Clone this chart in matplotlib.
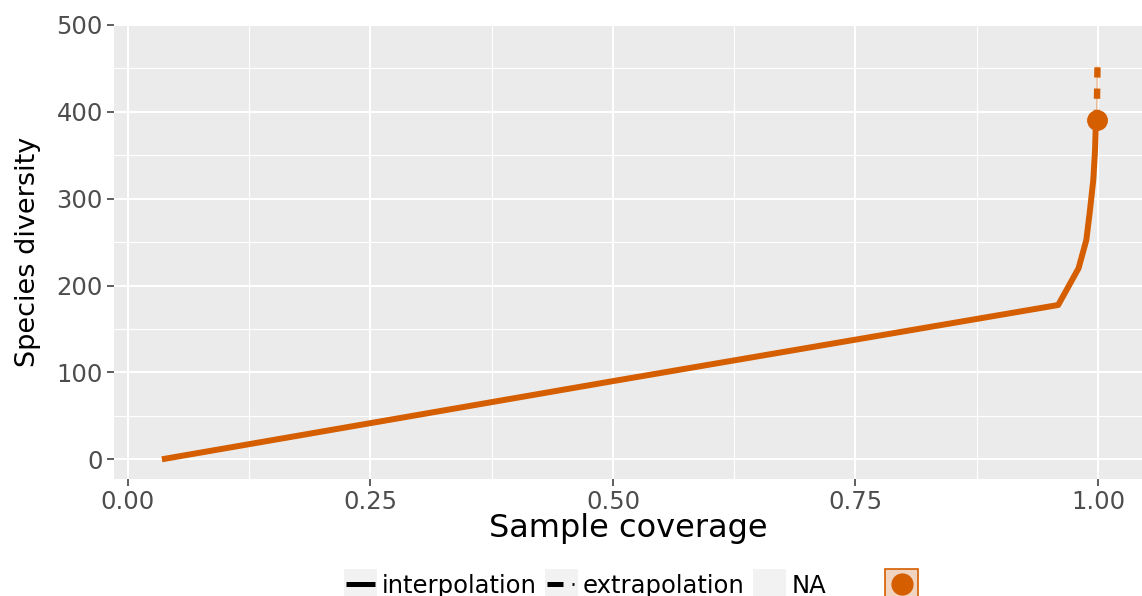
import matplotlib
matplotlib.use("Agg")
import matplotlib.pyplot as plt
from matplotlib.lines import Line2D
from matplotlib.patches import Rectangle

plt.rcParams['font.family'] = ['DejaVu Sans']

# data
interp_cov = [0.035, 0.5, 0.959, 0.980, 0.988, 0.9918, 0.9952, 0.997, 0.9976, 0.9987]
interp_div = [0, 90, 177.6, 219.9, 252.4, 287, 321.7, 356, 379, 390.6]
extrap_cov = [0.9987, 0.9995]
extrap_div = [390.6, 451.6]
obs_cov = [0.9987]
obs_div = [390.6]

x_ticks = [0.0, 0.25, 0.5, 0.75, 1.0]
x_ticklabels = ['0.00', '0.25', '0.50', '0.75', '1.00']
y_ticks = [0, 100, 200, 300, 400, 500]
legend_labels = ['interpolation', 'extrapolation', 'NA']

orange = '#D55E00'
W, H = 1142, 596

fig = plt.figure(figsize=(W / 100, H / 100), dpi=100)
ax = fig.add_axes([114 / W, 1 - 479 / H, 1028 / W, 455 / H])
ax.set_facecolor('#EBEBEB')
for s in ax.spines.values():
    s.set_visible(False)

ax.set_xlim(-0.0144, 1.0454)
ax.set_ylim(-22.7, 501.1)
ax.set_xticks(x_ticks)
ax.set_xticklabels(x_ticklabels)
ax.set_yticks(y_ticks)
ax.set_xticks([0.125, 0.375, 0.625, 0.875], minor=True)
ax.set_yticks([50, 150, 250, 350, 450], minor=True)
ax.grid(which='major', color='white', lw=1.5)
ax.grid(which='minor', color='white', lw=0.8)
ax.set_axisbelow(True)
ax.tick_params(which='major', length=5, width=1.1, color='#333333',
               labelcolor='#4D4D4D', labelsize=17.5, pad=3)
ax.tick_params(which='minor', length=0)

# curves
ax.plot(interp_cov, interp_div, color=orange, lw=4.3, solid_capstyle='butt', zorder=3)
ax.plot(extrap_cov, extrap_div, color=orange, lw=1.2, alpha=0.35, zorder=3)
ax.plot(extrap_cov, extrap_div, color=orange, lw=4.6, dashes=(1.6, 1.72),
        dash_capstyle='butt', zorder=3)
ax.plot(obs_cov, obs_div, 'o', color=orange, ms=14, zorder=4)

ax.set_xlabel('Sample coverage', fontsize=23, color='black')
ax.xaxis.set_label_coords(0.5, -0.108)
ax.xaxis.label.set_va('center')
ax.set_ylabel('Species diversity', fontsize=19.5, color='black')
ax.yaxis.set_label_coords(-0.0837, 0.499)
ax.yaxis.label.set_va('center')


# legend along the bottom, in figure pixels
def fx(x):
    return x / W


def fy(y):
    return 1 - y / H


key_left = [344, 545, 753]
text_left = [382, 583, 792]
for kx in key_left:
    fig.patches.append(Rectangle((fx(kx), fy(600)), 33 / W, 31 / H,
                                 transform=fig.transFigure, facecolor='#F2F2F2',
                                 edgecolor='none'))
fig.lines.append(Line2D([fx(346), fx(375)], [fy(584), fy(584)], color='black',
                        lw=3.6, transform=fig.transFigure, solid_capstyle='butt'))
fig.lines.append(Line2D([fx(547), fx(563)], [fy(584), fy(584)], color='black',
                        lw=3.6, transform=fig.transFigure, solid_capstyle='butt'))
fig.lines.append(Line2D([fx(572), fx(574)], [fy(584), fy(584)], color='black',
                        lw=2.0, transform=fig.transFigure, solid_capstyle='butt'))
for lab, tx in zip(legend_labels, text_left):
    fig.text(fx(tx), fy(593), lab, fontsize=17.5, color='black', va='baseline', ha='left')

fig.patches.append(Rectangle((fx(885), fy(600)), 33 / W, 31 / H,
                             transform=fig.transFigure, facecolor='#F0D4C0',
                             edgecolor=orange, lw=1.2))
fig.lines.append(Line2D([fx(901.5)], [fy(584)], marker='o', color=orange, ms=15,
                        transform=fig.transFigure))

fig.savefig('out.png', dpi=100)
